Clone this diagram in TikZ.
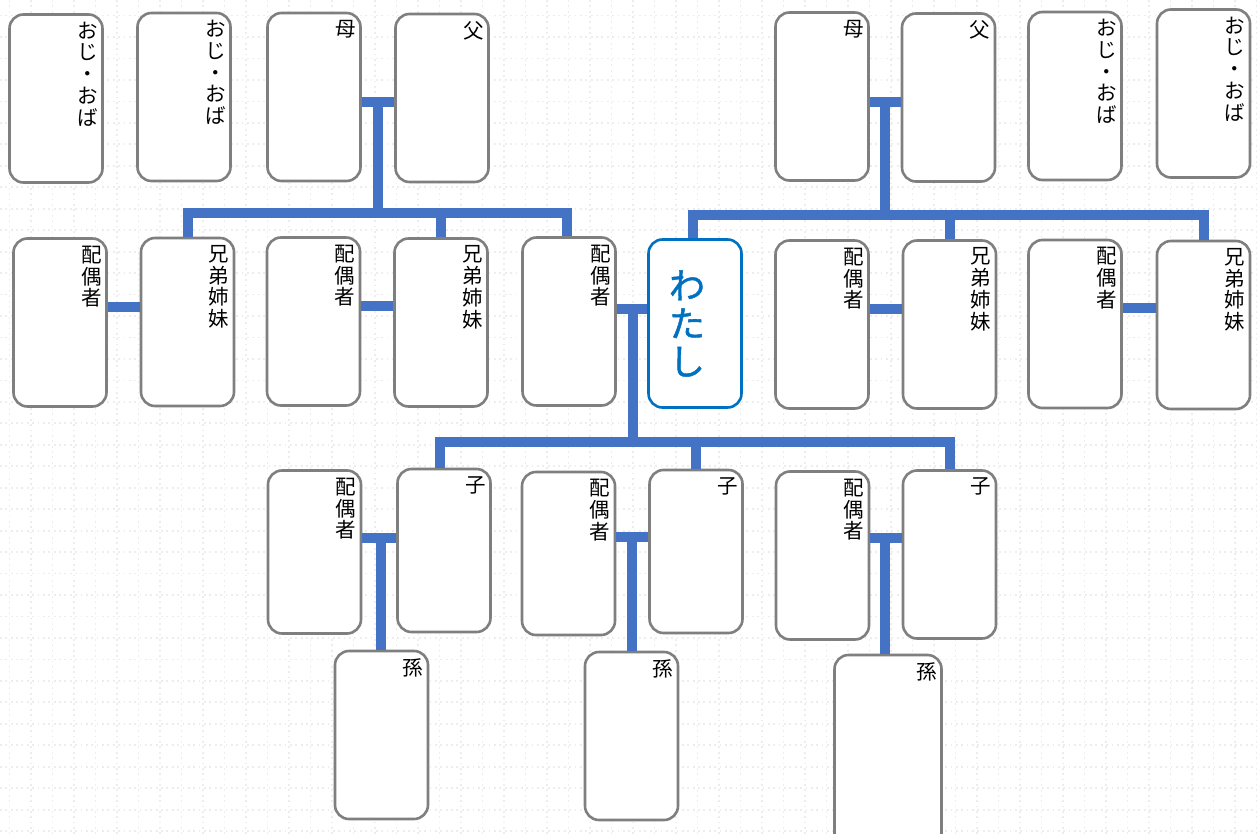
\documentclass[tikz,border=0pt]{standalone}
\usepackage{fontspec}
\newfontfamily\jp{Noto Sans CJK JP}
\newfontfamily\jpheavy[FakeBold=1.2]{Noto Sans CJK JP}
\definecolor{tieblue}{HTML}{4472C4}
\definecolor{cardgray}{HTML}{7F7F7F}
\definecolor{meblue}{HTML}{0070C0}
\tikzset{
  card/.style={draw=cardgray, line width=2.6pt, rounded corners=14pt, fill=white, minimum width=93pt, minimum height=168pt, inner sep=0pt},
  kid/.style={card, minimum height=163pt},
  role/.style={anchor=north east, xshift=-6pt, yshift=-8.5pt, inner sep=0pt, align=center, font=\jp\fontsize{20.5}{21.7}\selectfont},
  tie/.style={draw=tieblue, line width=10pt},
  dotline/.style={draw=black!7, line width=1.8pt, dash pattern=on 1.8pt off 3.57pt}
}

\begin{document}
\begin{tikzpicture}[x=1pt,y=-1pt]
    \path[use as bounding box, fill=white] (0,0) rectangle (1257,834);
    \foreach \k in {0,...,38} \draw[dotline] (0,{15.6+21.46*\k}) -- (1257,{15.6+21.46*\k});
    \foreach \k in {0,...,58} \draw[dotline] ({9.5+21.5*\k},0) -- ({9.5+21.5*\k},834);

    \node[card] (uncle1) at (56,98.5) {};
    \node[role] (uncle1t) at (uncle1.north east) {お\\じ\\・\\お\\ば};
    \node[card] (uncle2) at (184,97) {};
    \node[role] (uncle2t) at (uncle2.north east) {お\\じ\\・\\お\\ば};
    \node[card] (motherL) at (314,97) {};
    \node[role] (motherLt) at (motherL.north east) {母};
    \node[card] (fatherL) at (442,98) {};
    \node[role] (fatherLt) at (fatherL.north east) {父};
    \node[card] (motherR) at (822,96.5) {};
    \node[role] (motherRt) at (motherR.north east) {母};
    \node[card] (fatherR) at (948.5,97.5) {};
    \node[role] (fatherRt) at (fatherR.north east) {父};
    \node[card] (uncle3) at (1075,96) {};
    \node[role] (uncle3t) at (uncle3.north east) {お\\じ\\・\\お\\ば};
    \node[card] (uncle4) at (1203.5,93.5) {};
    \node[role] (uncle4t) at (uncle4.north east) {お\\じ\\・\\お\\ば};

    \node[card] (spouse1) at (60,322.5) {};
    \node[role] (spouse1t) at (spouse1.north east) {配\\偶\\者};
    \node[card] (sib1) at (187.5,322) {};
    \node[role] (sib1t) at (sib1.north east) {兄\\弟\\姉\\妹};
    \node[card] (spouse2) at (313.5,321.5) {};
    \node[role] (spouse2t) at (spouse2.north east) {配\\偶\\者};
    \node[card] (sib2) at (441,322.5) {};
    \node[role] (sib2t) at (sib2.north east) {兄\\弟\\姉\\妹};
    \node[card] (partner) at (569,321.5) {};
    \node[role] (partnert) at (partner.north east) {配\\偶\\者};
    \node[card, draw=meblue] (me) at (695,323.5) {};
    \node[inner sep=0pt, align=center, text=meblue, font=\jpheavy\fontsize{36}{38}\selectfont] (met) at ([xshift=-8pt]me.center) {わ\\た\\し};
    \node[card] (spouse3) at (822,324.5) {};
    \node[role] (spouse3t) at (spouse3.north east) {配\\偶\\者};
    \node[card] (sib3) at (949.5,324.5) {};
    \node[role] (sib3t) at (sib3.north east) {兄\\弟\\姉\\妹};
    \node[card] (spouse4) at (1075,324) {};
    \node[role] (spouse4t) at (spouse4.north east) {配\\偶\\者};
    \node[card] (sib4) at (1203.5,325) {};
    \node[role] (sib4t) at (sib4.north east) {兄\\弟\\姉\\妹};

    \node[kid] (cspouse1) at (314.5,552) {};
    \node[role] (cspouse1t) at (cspouse1.north east) {配\\偶\\者};
    \node[kid] (child1) at (444,550.5) {};
    \node[role] (child1t) at (child1.north east) {子};
    \node[kid] (cspouse2) at (568.5,553.5) {};
    \node[role] (cspouse2t) at (cspouse2.north east) {配\\偶\\者};
    \node[kid] (child2) at (696,551.5) {};
    \node[role] (child2t) at (child2.north east) {子};
    \node[card] (cspouse3) at (822.5,555.5) {};
    \node[role] (cspouse3t) at (cspouse3.north east) {配\\偶\\者};
    \node[card] (child3) at (949.5,554.5) {};
    \node[role] (child3t) at (child3.north east) {子};

    \node[card] (grand1) at (381.5,735) {};
    \node[role] (grand1t) at (grand1.north east) {孫};
    \node[card] (grand2) at (631.5,736) {};
    \node[role] (grand2t) at (grand2.north east) {孫};
    \node[card, minimum width=107pt, minimum height=200pt] (grand3) at (888,755) {};
    \node[role] (grand3t) at (grand3.north east) {孫};

    \coordinate (pl) at (378,102);
    \coordinate (sl) at (378,213);
    \coordinate (pr) at (885,102);
    \coordinate (sr) at (885,215);
    \coordinate (m1) at (124,306.5);
    \coordinate (m2) at (377,305.5);
    \coordinate (m3) at (886,308.5);
    \coordinate (m4) at (1139,308);
    \coordinate (w) at (633,309);
    \coordinate (cb) at (633,442);
    \coordinate (g1) at (380.5,538);
    \coordinate (g2) at (632,537);
    \coordinate (g3) at (885,538);

    \draw[tie] (motherL.east |- pl) -- (fatherL.west |- pl);
    \draw[tie] (pl) -- (sl);
    \draw[tie] (sib1.north) |- ([xshift=-2pt]partner.north |- sl) -- ([xshift=-2pt]partner.north);
    \draw[tie] (sib2.north) -- (sib2.north |- sl);
    \draw[tie] (motherR.east |- pr) -- (fatherR.west |- pr);
    \draw[tie] (pr) -- (sr);
    \draw[tie] ([xshift=-2pt]me.north) |- (sib4.north |- sr) -- (sib4.north);
    \draw[tie] (sib3.north) -- (sib3.north |- sr);

    \draw[tie] (spouse1.east |- m1) -- (sib1.west |- m1);
    \draw[tie] (spouse2.east |- m2) -- (sib2.west |- m2);
    \draw[tie] (spouse3.east |- m3) -- (sib3.west |- m3);
    \draw[tie] (spouse4.east |- m4) -- (sib4.west |- m4);

    \draw[tie] (partner.east |- w) -- (me.west |- w);
    \draw[tie] (w) -- (cb);
    \draw[tie] ([xshift=-4pt]child1.north) |- (child3.north |- cb) -- (child3.north);
    \draw[tie] (child2.north) -- (child2.north |- cb);

    \draw[tie] (cspouse1.east |- g1) -- (child1.west |- g1);
    \draw[tie] (g1) -- (g1 |- grand1.north);
    \draw[tie] (cspouse2.east |- g2) -- (child2.west |- g2);
    \draw[tie] (g2) -- (g2 |- grand2.north);
    \draw[tie] (cspouse3.east |- g3) -- (child3.west |- g3);
    \draw[tie] (g3) -- (g3 |- grand3.north);
\end{tikzpicture}
\end{document}
